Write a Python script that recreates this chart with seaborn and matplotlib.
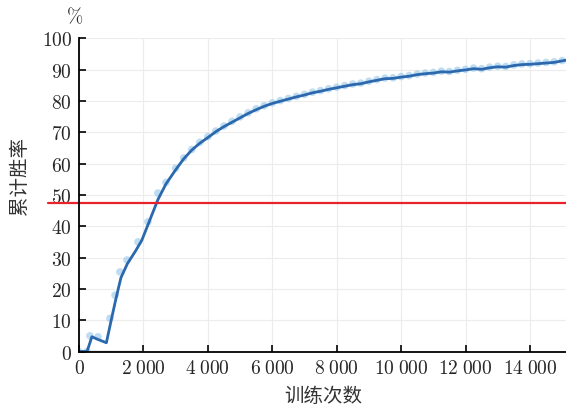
import matplotlib
matplotlib.use("Agg")
import matplotlib.pyplot as plt
import seaborn as sns
import pandas as pd

# ---- data ----
line_x = [0, 250, 400, 600, 850, 1000, 1150, 1300, 1500, 1750, 1950, 2200, 2450, 2700,
          3000, 3250, 3500, 3750, 4000, 4250, 4500, 4750, 5000, 5250, 5500, 5750, 6000,
          6250, 6500, 6750, 7000, 7250, 7500, 7750, 8000, 8250, 8500, 8750, 9000, 9250,
          9500, 9750, 10000, 10250, 10500, 10750, 11000, 11250, 11500, 11750, 12000,
          12250, 12500, 12750, 13000, 13250, 13500, 13750, 14000, 14250, 14500, 14750,
          15000, 15120]
line_y = [0, 0, 4.7, 3.8, 2.8, 10, 17, 23.5, 28, 32, 35.5, 42, 48.5, 53.5,
          58, 61.5, 64.3, 66.5, 68.3, 70.2, 71.8, 73.2, 74.6, 76, 77.2, 78.3, 79.2,
          79.9, 80.6, 81.3, 81.9, 82.6, 83.1, 83.7, 84.2, 84.7, 85.2, 85.5, 86.1, 86.6,
          87.1, 87.2, 87.6, 87.9, 88.4, 88.7, 88.9, 89.3, 89.2, 89.6, 89.9,
          90.3, 90.1, 90.6, 90.9, 90.8, 91.3, 91.6, 91.7, 91.9, 92.1, 92.3,
          92.8, 93.0]

marker_x = [0, 250, 340, 590, 960, 1120, 1270, 1490, 1830, 2140, 2450, 2700,
            3000, 3250, 3500, 3750, 4000, 4250, 4500, 4750, 5000, 5250, 5500, 5750, 6000,
            6250, 6500, 6750, 7000, 7250, 7500, 7750, 8000, 8250, 8500, 8750, 9000, 9250,
            9500, 9750, 10000, 10250, 10500, 10750, 11000, 11250, 11500, 11750, 12000,
            12250, 12500, 12750, 13000, 13250, 13500, 13750, 14000, 14250, 14500, 14750,
            15000]
marker_y = [0, 0, 5, 4.7, 10.6, 18, 25.4, 29.2, 35, 41.4, 50.6, 54,
            58.5, 61.8, 64.5, 66.8, 68.6, 70.4, 72.0, 73.5, 74.9, 76.2, 77.5, 78.5, 79.4,
            80.1, 80.8, 81.5, 82.1, 82.8, 83.3, 83.9, 84.4, 84.9, 85.4, 85.7, 86.3, 86.8,
            87.3, 87.4, 87.8, 88.1, 88.6, 88.9, 89.1, 89.5, 89.4, 89.8, 90.1,
            90.5, 90.3, 90.8, 91.1, 91.0, 91.5, 91.8, 91.9, 92.1, 92.3, 92.5,
            92.9]

baseline_value = 47.5
x_ticks = [0, 2000, 4000, 6000, 8000, 10000, 12000, 14000]
x_tick_labels = ["0", "2 000", "4 000", "6 000", "8 000", "10 000", "12 000", "14 000"]
y_ticks = [0, 10, 20, 30, 40, 50, 60, 70, 80, 90, 100]
x_label = "训练次数"
y_label = "累计胜率"
unit_label = "%"

# ---- style ----
sns.set_theme(style="whitegrid")
plt.rcParams["font.family"] = ["Noto Sans CJK SC", "DejaVu Sans"]
plt.rcParams["mathtext.fontset"] = "cm"

fig = plt.figure(figsize=(5.66, 4.09), dpi=100)
ax = fig.add_axes([79 / 566, 1 - 351.5 / 409, 1 - 79 / 566, (351.5 - 38.3) / 409])

line_df = pd.DataFrame({"x": line_x, "y": line_y})
marker_df = pd.DataFrame({"x": marker_x, "y": marker_y})

ax.plot([0, 2000], [0, 0], color="#b5b5b5", lw=2.5, zorder=1, solid_capstyle="butt")
sns.scatterplot(data=marker_df, x="x", y="y", ax=ax, s=30, color="#9ccbec",
                alpha=0.65, edgecolor="none", zorder=2, legend=False)
sns.lineplot(data=line_df, x="x", y="y", ax=ax, color="#2b68ad", lw=2.0,
             zorder=3, legend=False)
ax.axhline(baseline_value, xmin=-31 / 487, xmax=1, color="#e8242a", lw=1.6,
           clip_on=False, zorder=4)

ax.set_xlim(0, 15120)
ax.set_ylim(0, 100)
ax.set_xticks(x_ticks)
ax.set_xticklabels([r"$" + t.replace(" ", r"\;") + r"$" for t in x_tick_labels])
ax.set_yticks(y_ticks)
ax.set_yticklabels([r"$%d$" % v for v in y_ticks])
ax.tick_params(axis="both", direction="in", length=5, width=1.2, color="black",
               labelsize=14, pad=5, bottom=True, left=True)
ax.set_xlabel("")
ax.set_ylabel("")
ax.grid(True, color="#ececec", lw=0.8)

for side in ["top", "right"]:
    ax.spines[side].set_visible(False)
for side in ["left", "bottom"]:
    ax.spines[side].set_visible(True)
    ax.spines[side].set_color("black")
    ax.spines[side].set_linewidth(1.3)
    ax.spines[side].set_zorder(5)

fig.text(75 / 566, 1 - 18 / 409, r"$\%$", fontsize=14, ha="center", va="center")
fig.text(20 / 566, 1 - 176 / 409, y_label, fontsize=14, rotation=90,
         ha="center", va="center", color="#333333", fontweight="light")
fig.text(323 / 566, 1 - 396 / 409, x_label, fontsize=14, ha="center", va="center",
         color="#333333", fontweight="light")

fig.savefig("out.png", dpi=100)
